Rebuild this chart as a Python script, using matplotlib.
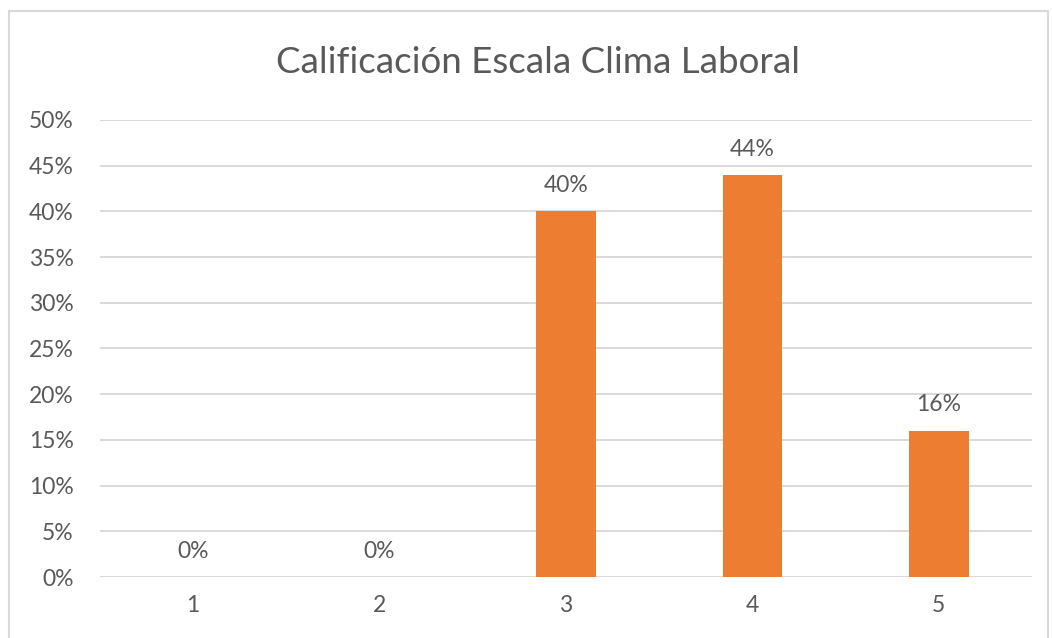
import matplotlib.pyplot as plt
from matplotlib.patches import Rectangle
from matplotlib.ticker import PercentFormatter

plt.rcParams['font.family'] = ['Lato', 'DejaVu Sans']

# datos
categorias = ["1", "2", "3", "4", "5"]
porcentajes = [0, 0, 40, 44, 16]
ticks_y = [0, 5, 10, 15, 20, 25, 30, 35, 40, 45, 50]

texto = "#595959"
naranja = "#ED7D31"
gris = "#D9D9D9"

fig = plt.figure(figsize=(10.52, 6.38), dpi=100)
ax = fig.add_axes([0.095, 0.0956, 0.886, 0.7164])

x = list(range(len(categorias)))
ax.bar(x, porcentajes, width=0.32, color=naranja, zorder=3)

for xi, v in zip(x, porcentajes):
    ax.annotate(f"{v}%", (xi, v), xytext=(0, 11), textcoords="offset points",
                ha="center", va="bottom", fontsize=16.5, color=texto)

ax.set_xlim(-0.5, len(categorias) - 0.5)
ax.set_ylim(0, 50)
ax.set_yticks(ticks_y)
ax.yaxis.set_major_formatter(PercentFormatter(decimals=0))
ax.set_xticks(x)
ax.set_xticklabels(categorias)
ax.tick_params(axis="both", length=0, labelsize=16.5, colors=texto)
ax.tick_params(axis="y", pad=19)
ax.tick_params(axis="x", pad=13)
ax.grid(axis="y", color=gris, linewidth=1.4, zorder=0)
for s in ax.spines.values():
    s.set_visible(False)

fig.text(0.511, 0.902, "Calificación Escala Clima Laboral", ha="center", va="center",
         fontsize=26.5, color=texto)

# marco del gráfico
fig.patches.append(Rectangle((9 / 1052, -0.1), 1039 / 1052, 1.1 - 11 / 638,
                             transform=fig.transFigure, fill=False,
                             edgecolor=gris, linewidth=1.5))

fig.savefig("out.png", dpi=100, facecolor="white")
